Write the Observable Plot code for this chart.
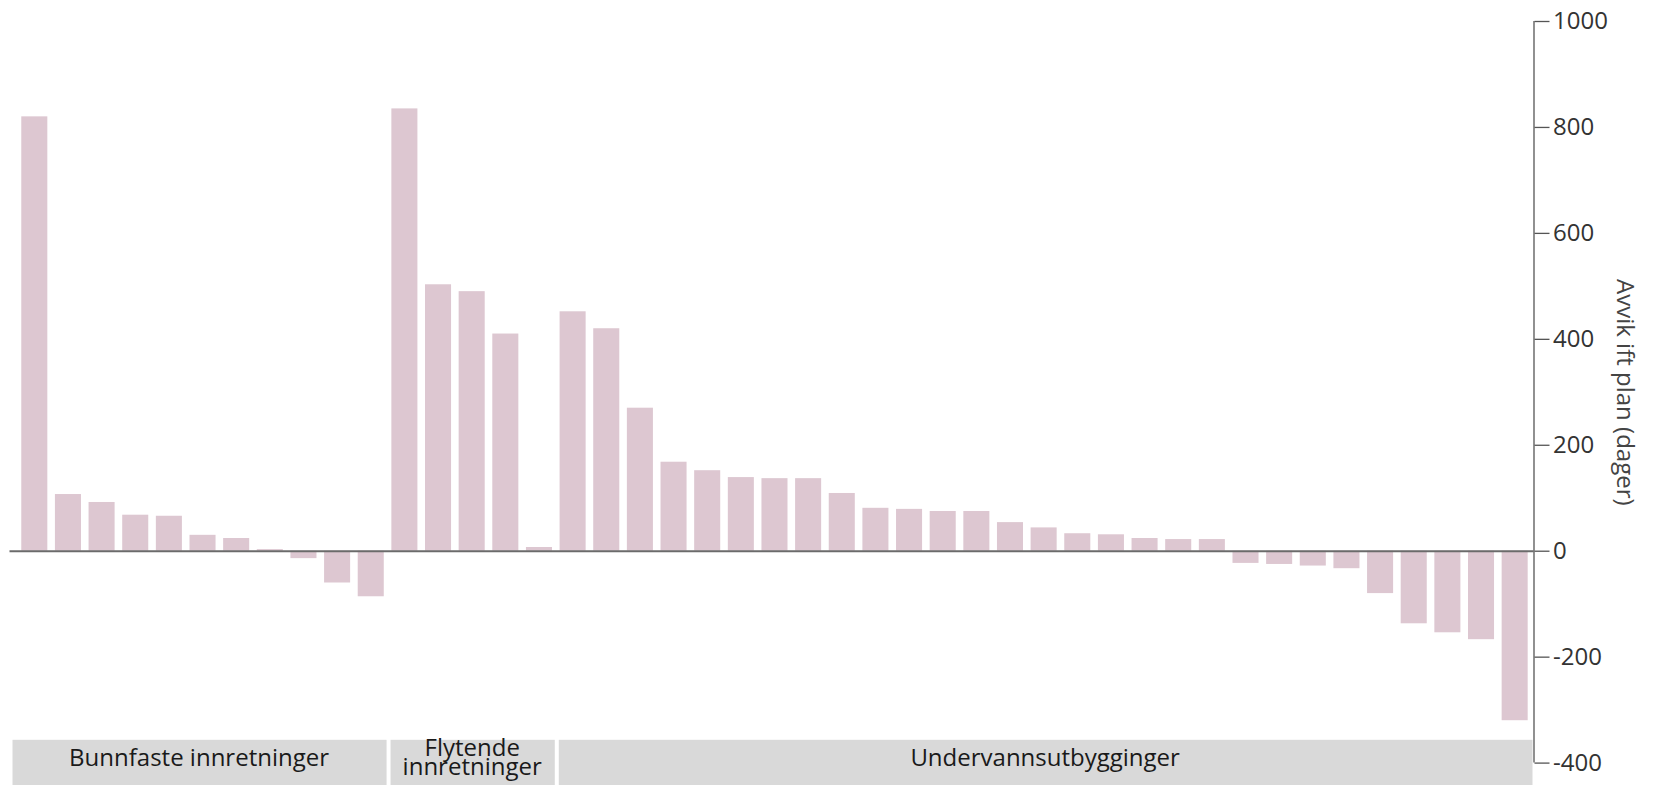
<!DOCTYPE html>
<html>
<head>
<meta charset="utf-8">
<script src="https://cdn.jsdelivr.net/npm/d3@7"></script>
<script src="https://cdn.jsdelivr.net/npm/@observablehq/plot@0.6"></script>
<style>
  html, body { margin: 0; padding: 0; background: #ffffff; overflow: hidden; }
  #chart svg { display: block; }
</style>
</head>
<body>
<div id="chart"></div>
<script>
// ---- Data ----
const groups = ["Bunnfaste innretninger", "Flytende\ninnretninger", "Undervannsutbygginger"];
const bunnfaste = [820, 107, 92, 68, 66, 30, 24, 3, -14, -60, -86];
const flytende = [835, 503, 490, 410, 7];
const undervann = [452, 420, 270, 168, 152, 139, 137, 137, 109, 81, 79, 75, 75, 54, 44, 33, 31, 24, 22, 22,
                   -23, -25, -28, -33, -80, -137, -154, -167, -320];
const yTicks = [-400, -200, 0, 200, 400, 600, 800, 1000];
const yLabel = "Avvik ift plan (dager)";

// ---- Build tables ----
const series = [bunnfaste, flytende, undervann];
const bars = [];
const spans = [];
let idx = 0;
series.forEach((vals, g) => {
  const start = idx;
  vals.forEach(v => bars.push({i: idx++, value: v, group: groups[g]}));
  spans.push({group: groups[g], g, start, end: idx});
});

const xMin = -0.237, xMax = 45.06;
const BOX_TOP = -357, BOX_BOTTOM = -450, LABEL_Y = -393;
const last = spans.length - 1;
spans.forEach(s => {
  s.x1 = s.g === 0 ? xMin : s.start;
  s.x2 = s.g === last ? xMax : s.end;
});

const chart = Plot.plot({
  width: 1653,
  height: 785,
  marginLeft: 9.5,
  marginRight: 119.5,
  marginTop: 21,
  marginBottom: 22.4,
  style: {fontFamily: "'Open Sans', sans-serif", fontSize: "24px", color: "#333", background: "#fff", overflow: "visible"},
  x: {type: "linear", domain: [xMin, xMax], axis: null},
  y: {domain: [-400, 1000], axis: null},
  marks: [
    Plot.rect(bars, {x1: "i", x2: d => d.i + 1, y1: 0, y2: "value", fill: "#ddc7d1", insetLeft: 3.8, insetRight: 3.8}),
    Plot.rect(spans, {x1: "x1", x2: "x2", y1: BOX_TOP, y2: BOX_BOTTOM, fill: "#d9d9d9", insetLeft: 3, insetRight: 1}),
    Plot.text(spans, {x: d => (d.x1 + d.x2) / 2, y: LABEL_Y, text: "group", fontSize: 24, lineHeight: 0.8, fill: "#1a1a1a"}),
    Plot.ruleY([0], {stroke: "#6b6b6b", strokeWidth: 2}),
    Plot.ruleX([xMax], {stroke: "#555", strokeWidth: 1.3}),
    Plot.axisY({anchor: "right", ticks: yTicks, tickSize: 15, tickPadding: 4, tickFormat: d => String(d),
                fontSize: 24, stroke: "#555", strokeWidth: 1.3, fill: "#333", label: null}),
    Plot.text([yLabel], {frameAnchor: "right", dx: 91, rotate: 90, textAnchor: "middle", text: d => d, fontSize: 24, fill: "#444"})
  ]
});
document.getElementById("chart").appendChild(chart);
</script>
</body>
</html>
